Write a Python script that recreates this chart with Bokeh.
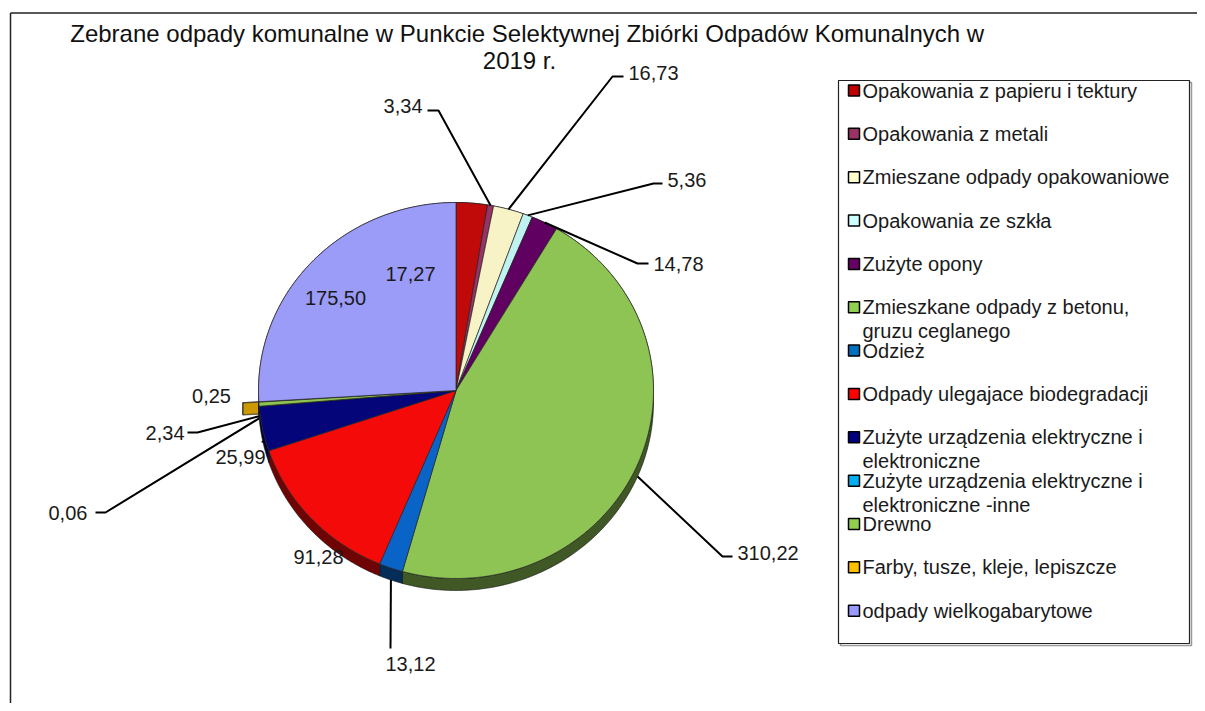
import math
from bokeh.plotting import figure
from bokeh.models import Range1d, ColumnDataSource
from bokeh.embed import file_html
from bokeh.resources import INLINE
from bokeh.core.properties import value

# ---------------- data ----------------
categories = [
    "Opakowania z papieru i tektury",
    "Opakowania z metali",
    "Zmieszane odpady opakowaniowe",
    "Opakowania ze szkła",
    "Zużyte opony",
    "Zmieszkane odpady z betonu,\ngruzu ceglanego",
    "Odzież",
    "Odpady ulegajace biodegradacji",
    "Zużyte urządzenia elektryczne i\nelektroniczne",
    "Zużyte urządzenia elektryczne i\nelektroniczne -inne",
    "Drewno",
    "Farby, tusze, kleje, lepiszcze",
    "odpady wielkogabarytowe",
]
values = [17.27, 3.34, 16.73, 5.36, 14.78, 310.22, 13.12, 91.28, 25.99, 0.06, 2.34, 0.25, 175.50]
colors = ["#C00A0A", "#993366", "#F7F3C6", "#C0F2F2", "#600060", "#8DC453", "#0A64C8",
          "#F50A0A", "#05057A", "#00B0F0", "#8DC453", "#FFC000", "#9B9BF8"]
legend_colors = ["#C00000", "#993366", "#FFFFCC", "#CCFFFF", "#660066", "#92D050", "#0070C0",
                 "#FF0000", "#000080", "#00B0F0", "#92D050", "#FFC000", "#9999FF"]
title_line1 = "Zebrane odpady komunalne  w Punkcie  Selektywnej  Zbiórki Odpadów Komunalnych  w"
title_line2 = "2019 r."
exploded = [11]

FONT = value("Liberation Sans")

def fmt(v):
    return f"{v:.2f}".replace(".", ",")

def darken(hexc, f):
    h = hexc.lstrip("#")
    r, g, b = int(h[0:2], 16), int(h[2:4], 16), int(h[4:6], 16)
    return "#%02x%02x%02x" % (int(r * f), int(g * f), int(b * f))

# ---------------- figure ----------------
W, H = 1197, 703
p = figure(width=W, height=H, x_range=Range1d(0, W), y_range=Range1d(H, 0),
           output_backend="svg", toolbar_location=None, x_axis_type=None, y_axis_type=None,
           min_border=0, min_border_left=0, min_border_right=0, min_border_top=0, min_border_bottom=0)
p.grid.visible = False
p.outline_line_color = None
p.background_fill_color = "white"
p.border_fill_color = "white"

# chart area frame (left and top edges visible)
p.segment(x0=[10, 10], y0=[12.5, 12.5], x1=[10, W], y1=[H, 12.5], line_color="#222222", line_width=1.5)

# ---------------- pie geometry ----------------
cx, cy, rx, ry, depth = 455.5, 390.0, 197.5, 188.0, 12.0
total = sum(values)

def rim(phi, dx=0.0, dy=0.0):
    a = math.radians(phi)
    return cx + rx * math.sin(a) + dx, cy - ry * math.cos(a) + dy

starts, ends = [], []
acc = 0.0
for v in values:
    starts.append(acc / total * 360.0)
    acc += v
    ends.append(acc / total * 360.0)

def arc_pts(a0, a1, dx=0.0, dy=0.0):
    n = max(2, int(abs(a1 - a0) / 0.5) + 2)
    return [rim(a0 + (a1 - a0) * k / (n - 1), dx, dy) for k in range(n)]

top_xs, top_ys, top_c = [], [], []
wall_xs, wall_ys, wall_c = [], [], []
ex_xs, ex_ys, ex_c = [], [], []

for i, (a0, a1) in enumerate(zip(starts, ends)):
    if i in exploded:
        mid = math.radians((a0 + a1) / 2)
        off = 16.0
        dx, dy = off * math.sin(mid), -off * math.cos(mid) * ry / rx
        for a in (a0, a1):
            r0 = rim(a, dx, dy)
            ex_xs.append([cx + dx, r0[0], r0[0], cx + dx])
            ex_ys.append([cy + dy, r0[1], r0[1] + depth, cy + dy + depth])
            ex_c.append(darken(colors[i], 0.8))
        arc = arc_pts(a0, a1, dx, dy)
        ex_xs.append([pt[0] for pt in arc] + [pt[0] for pt in arc[::-1]])
        ex_ys.append([pt[1] for pt in arc] + [pt[1] + depth for pt in arc[::-1]])
        ex_c.append(darken(colors[i], 0.7))
        ex_xs.append([cx + dx] + [pt[0] for pt in arc])
        ex_ys.append([cy + dy] + [pt[1] for pt in arc])
        ex_c.append(colors[i])
        continue
    arc = arc_pts(a0, a1)
    wall_xs.append([pt[0] for pt in arc] + [pt[0] for pt in arc[::-1]])
    wall_ys.append([pt[1] for pt in arc] + [pt[1] + depth for pt in arc[::-1]])
    wall_c.append(darken(colors[i], 0.45))
    top_xs.append([cx] + [pt[0] for pt in arc])
    top_ys.append([cy] + [pt[1] for pt in arc])
    top_c.append(colors[i])

p.patches(ex_xs, ex_ys, fill_color=ex_c, line_color="#333333", line_width=0.6)
p.patches(wall_xs, wall_ys, fill_color=wall_c, line_color="#111111", line_width=0.6)
p.patches(top_xs, top_ys, fill_color=top_c, line_color="#222222", line_width=0.7)

# ---------------- data labels ----------------
# layout: index -> (text x, text y, align, leader path points after the rim point)
label_layout = {
    0: (410, 273, "center", None),
    1: (422, 105, "right", [(438, 110), (427, 110)]),
    2: (628, 72, "left", [(612, 76), (623, 76)]),
    3: (667, 179, "left", [(653, 183), (662, 183)]),
    4: (653, 263, "left", [(637, 263), (648, 263)]),
    5: (737, 552, "left", [(722, 556), (732, 556)]),
    6: (385, 663, "left", [(390, 648)]),
    7: (318, 556, "center", None),
    8: (240, 456, "center", [(262, 442)]),
    9: (48, 512, "left", [(105, 512), (95, 512)]),
    10: (184, 432, "right", [(197, 432), (187, 432)]),
    11: (211, 395, "center", None),
    12: (335, 297, "center", None),
}

lx, ly = [], []
for i, (tx, ty, al, path) in label_layout.items():
    if path is None:
        continue
    mid = (starts[i] + ends[i]) / 2
    x0, y0 = rim(mid)
    if 90 < mid < 270:
        y0 += depth
    lx.append([x0] + [q[0] for q in path])
    ly.append([y0] + [q[1] for q in path])
p.multi_line(lx, ly, line_color="black", line_width=2)

for al in ("left", "right", "center"):
    idx = [i for i in label_layout if label_layout[i][2] == al]
    src = ColumnDataSource(dict(
        x=[label_layout[i][0] for i in idx],
        y=[label_layout[i][1] for i in idx],
        t=[fmt(values[i]) for i in idx],
    ))
    p.text(x="x", y="y", text="t", source=src, text_font=FONT, text_font_size="20px",
           text_color="#1a1a1a", text_align=al, text_baseline="middle")

# ---------------- title ----------------
p.text(x=[540], y=[33], text=[title_line1], text_font=FONT, text_font_size="24px",
       text_color="#111111", text_align="center", text_baseline="middle")
p.text(x=[519], y=[60], text=[title_line2], text_font=FONT, text_font_size="24px",
       text_color="#111111", text_align="center", text_baseline="middle")

# ---------------- legend ----------------
bx0, by0, bx1, by1 = 838, 80, 1189, 643
p.quad(left=[bx0 + 2], right=[bx1 + 2], top=[by0 + 2], bottom=[by1 + 2], fill_color=None,
       line_color="#9a9a9a", line_width=1.5)
p.quad(left=[bx0], right=[bx1], top=[by0], bottom=[by1], fill_color="white",
       line_color="#222222", line_width=1.2)

row0, row_step = 90.0, 43.35
mk_x, mk_y, tx_x, tx_y, tx_t = [], [], [], [], []
for i, cat in enumerate(categories):
    yy = row0 + i * row_step
    mk_x.append(853.5)
    mk_y.append(yy)
    for j, line in enumerate(cat.split("\n")):
        tx_x.append(862)
        tx_y.append(yy + j * 24)
        tx_t.append(line)
p.scatter(x=mk_x, y=mk_y, marker="square", size=11, fill_color=legend_colors,
          line_color="black", line_width=1.5)
p.text(x=tx_x, y=tx_y, text=tx_t, text_font=FONT, text_font_size="20px",
       text_color="#1a1a1a", text_align="left", text_baseline="middle")

open("out.html", "w").write(file_html(p, INLINE))
